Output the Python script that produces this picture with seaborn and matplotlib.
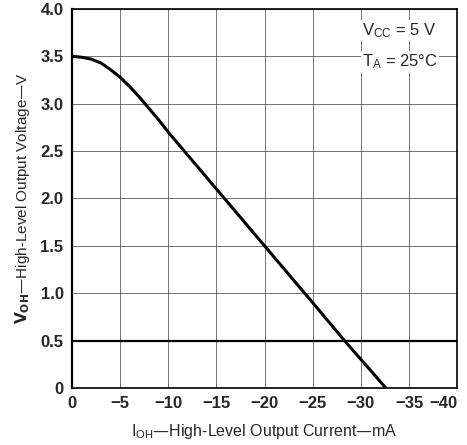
import matplotlib
matplotlib.use("Agg")
import matplotlib.pyplot as plt
import seaborn as sns
import pandas as pd

# Curve (mA, V)
current_ma = [0, -1, -2, -3, -4, -5, -6, -7, -8, -9, -10, -15, -20, -25, -28.3, -32.6]
voltage_v = [3.50, 3.49, 3.47, 3.43, 3.36, 3.28, 3.18, 3.07, 2.95, 2.83, 2.70, 2.10, 1.50, 0.90, 0.50, 0.0]

x_ticks = [0, -5, -10, -15, -20, -25, -30, -35, -40]
x_tick_labels = ["0", "\u22125", "\u221210", "\u221215", "\u221220", "\u221225", "\u221230", "\u221235", "\u221240"]
y_ticks = [0, 0.5, 1.0, 1.5, 2.0, 2.5, 3.0, 3.5, 4.0]
y_tick_labels = ["0", "0.5", "1.0", "1.5", "2.0", "2.5", "3.0", "3.5", "4.0"]
ref_level = 0.5

sns.set_style("white")
plt.rcParams["font.family"] = ["Liberation Sans", "DejaVu Sans"]

df = pd.DataFrame({"I": current_ma, "V": voltage_v})

fig = plt.figure(figsize=(4.67, 4.45), dpi=100)
ax = fig.add_axes([0.154, 0.128, 0.825, 0.852])

sns.lineplot(data=df, x="I", y="V", ax=ax, color="black", linewidth=2.2)
ax.axhline(ref_level, color="black", linewidth=1.6)

ax.set_xlim(0, -40)
ax.set_ylim(0, 4.0)
ax.set_xticks(x_ticks)
ax.set_xticklabels(x_tick_labels, fontsize=12, fontweight="bold")
ax.set_yticks(y_ticks)
ax.set_yticklabels(y_tick_labels, fontsize=12, fontweight="bold")
ax.tick_params(length=0, pad=6)
# keep the last x label inside the figure
ax.get_xticklabels()[-1].set_horizontalalignment("right")
ax.get_xticklabels()[-1].set_x(-40)
ax.grid(True, color="#333333", linewidth=0.6, alpha=0.8)

for side in ["left", "bottom", "top", "right"]:
    ax.spines[side].set_color("black")
    ax.spines[side].set_linewidth(1.2)
ax.spines["left"].set_linewidth(1.6)

ax.set_xlabel("$\\mathregular{I_{OH}}$\u2014High-Level Output Current\u2014mA", fontsize=11.5, labelpad=8)
ax.set_ylabel("$\\mathbf{V_{OH}}$\u2014High-Level Output Voltage\u2014V", fontsize=11, labelpad=6)

ax.text(-37.8, 3.77, "$\\mathregular{V_{CC}}$ = 5 V", fontsize=12, ha="right", va="center",
        bbox=dict(facecolor="white", edgecolor="none", pad=1))
ax.text(-38.0, 3.44, "$\\mathregular{T_A}$ = 25\u00b0C", fontsize=12, ha="right", va="center",
        bbox=dict(facecolor="white", edgecolor="none", pad=1))

fig.savefig("out.png", dpi=100)
